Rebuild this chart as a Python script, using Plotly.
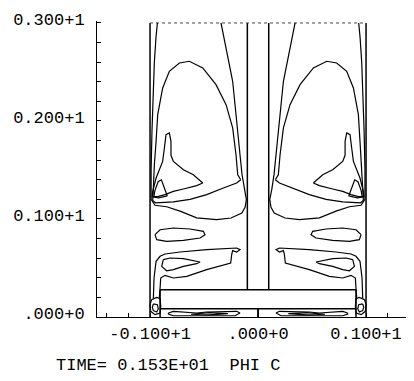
import plotly.graph_objects as go

# ---------------- data (right half, x >= 0; left half is the mirror image) -------------
c1_x = [0.343, 0.321, 0.281, 0.235, 0.21, 0.188, 0.167, 0.148, 0.127, 0.108, 0.12, 0.15, 0.25,
        0.383, 0.568, 0.722, 0.846, 0.954, 0.99, 0.99, 0.982, 0.972, 0.96, 0.945, 0.932]
c1_y = [3.0, 2.881, 2.677, 2.405, 2.133, 1.861, 1.656, 1.452, 1.3, 1.197, 1.12, 1.06, 1.01,
        0.993, 1.012, 1.08, 1.125, 1.14, 1.2, 1.5, 1.9, 2.3, 2.6, 2.85, 3.0]

c2_x = [0.16, 0.188, 0.204, 0.235, 0.296, 0.389, 0.512, 0.636, 0.728, 0.821, 0.883, 0.929, 0.944,
        0.96, 0.969, 0.975, 0.95, 0.784, 0.63, 0.475, 0.321, 0.198, 0.16]
c2_y = [1.40, 1.45, 1.656, 1.929, 2.167, 2.371, 2.541, 2.609, 2.592, 2.507, 2.337, 2.065, 1.792,
        1.554, 1.316, 1.19, 1.165, 1.175, 1.2, 1.248, 1.316, 1.367, 1.40]

c3_x = [0.512, 0.599, 0.691, 0.784, 0.806, 0.806, 0.821, 0.852, 0.867, 0.883, 0.944, 0.975, 0.98,
        0.923, 0.861, 0.784, 0.691, 0.568, 0.512]
c3_y = [1.367, 1.452, 1.503, 1.588, 1.65, 1.792, 1.878, 1.861, 1.724, 1.588, 1.418, 1.282, 1.225,
        1.231, 1.248, 1.282, 1.306, 1.34, 1.367]

c4_x = [0.84, 0.87, 0.895, 0.925, 0.955, 0.965, 0.92, 0.84]
c4_y = [1.235, 1.33, 1.40, 1.38, 1.29, 1.225, 1.215, 1.235]

c5_x = [0.954, 0.907, 0.784, 0.63, 0.506, 0.491, 0.537, 0.691, 0.846, 0.938, 0.954]
c5_y = [0.84, 0.89, 0.908, 0.898, 0.874, 0.84, 0.806, 0.782, 0.772, 0.789, 0.84]

c6_x = [0.969, 0.963, 0.944, 0.907, 0.861, 0.722, 0.475, 0.259, 0.198, 0.167, 0.198, 0.235,
        0.244, 0.253, 0.475, 0.66, 0.784, 0.861, 0.901, 0.907, 0.914]
c6_y = [0.194, 0.398, 0.568, 0.619, 0.643, 0.663, 0.687, 0.697, 0.704, 0.687, 0.663, 0.677,
        0.636, 0.551, 0.483, 0.415, 0.398, 0.425, 0.398, 0.296, 0.194]

c7_x = [0.877, 0.815, 0.691, 0.599, 0.537, 0.568, 0.691, 0.784, 0.846, 0.892, 0.883, 0.877]
c7_y = [0.585, 0.602, 0.595, 0.575, 0.561, 0.544, 0.517, 0.483, 0.472, 0.517, 0.568, 0.585]

c8_x = [0.985, 0.938, 0.907, 0.901, 0.907, 0.954, 0.994, 1.0, 0.985]
c8_y = [0.177, 0.2, 0.187, 0.109, 0.041, 0.024, 0.058, 0.126, 0.177]

c9_x = [0.969, 0.932, 0.923, 0.938, 0.969, 0.979, 0.969]
c9_y = [0.133, 0.126, 0.085, 0.051, 0.065, 0.099, 0.133]

c10_x = [0.83, 0.784, 0.568, 0.475, 0.198, 0.167, 0.213, 0.475, 0.784, 0.83, 0.83]
c10_y = [0.041, 0.058, 0.041, 0.051, 0.058, 0.041, 0.013, 0.013, 0.013, 0.031, 0.041]

c11_x = [0.62, 0.45, 0.28, 0.45, 0.62]
c11_y = [0.028, 0.045, 0.035, 0.022, 0.028]

contours = [(c1_x, c1_y), (c2_x, c2_y), (c3_x, c3_y), (c4_x, c4_y), (c5_x, c5_y),
            (c6_x, c6_y), (c7_x, c7_y), (c8_x, c8_y), (c9_x, c9_y), (c10_x, c10_y),
            (c11_x, c11_y)]

# geometry of the domain (right half)
wall_x, wall_y = [1.0, 1.0], [0.0, 3.0]
divider_x, divider_y = [0.099, 0.099], [0.279, 3.0]
shelf_x, shelf_y = [0.0, 0.907], [0.279, 0.279]
post_x, post_y = [0.907, 0.907], [0.0, 0.279]
floor_x, floor_y = [0.0, 0.907], [0.085, 0.085]
centre_x, centre_y = [0.0, 0.0], [0.0, 0.085]
geometry = [(wall_x, wall_y), (divider_x, divider_y), (shelf_x, shelf_y),
            (post_x, post_y), (floor_x, floor_y), (centre_x, centre_y)]
top_x, top_y = [-1.0, 1.0], [3.0, 3.0]

# axes
x_ticks = [-1.0, 0.0, 1.0]
x_labels = ["-0.100+1", ".000+0", "0.100+1"]
x_minor = [-1.4, -1.2, 1.2, 1.4]
y_ticks = [0.0, 1.0, 2.0, 3.0]
y_labels = [".000+0", "0.100+1", "0.200+1", "0.300+1"]
title_text = "TIME= 0.153E+01  PHI C"


def mirrored(pairs):
    xs, ys = [], []
    for px, py in pairs:
        xs += list(px) + [None] + [-v for v in px] + [None]
        ys += list(py) + [None] + list(py) + [None]
    return xs, ys


FONT = "Liberation Mono"
fig = go.Figure()
gx, gy = mirrored(geometry)
fig.add_trace(go.Scatter(x=gx, y=gy, mode="lines", line=dict(color="black", width=1.5),
                         hoverinfo="skip"))
fig.add_trace(go.Scatter(x=top_x, y=top_y, mode="lines",
                         line=dict(color="#444", width=1, dash="dot"), hoverinfo="skip"))
cx, cy = mirrored(contours)
fig.add_trace(go.Scatter(x=cx, y=cy, mode="lines", line=dict(color="black", width=1.2),
                         hoverinfo="skip"))

fig.update_layout(
    width=406, height=373, showlegend=False,
    margin=dict(l=89, r=0, t=13, b=64),
    paper_bgcolor="white", plot_bgcolor="white",
    font=dict(family=FONT, size=17, color="black"),
    xaxis=dict(range=[-1.491, 1.444], showgrid=False, zeroline=False,
               showline=True, linecolor="black", linewidth=1,
               tickmode="array", tickvals=x_ticks, ticktext=x_labels,
               ticks="inside", ticklen=4, tickcolor="black",
               ticklabelstandoff=1,
               minor=dict(tickvals=x_minor, ticks="inside", ticklen=4, tickcolor="black"),
               tickfont=dict(family=FONT, size=17, color="black")),
    yaxis=dict(range=[0, 3.02], showgrid=False, zeroline=False,
               showline=True, linecolor="black", linewidth=1,
               tickmode="array", tickvals=y_ticks, ticktext=y_labels,
               ticks="inside", ticklen=4, tickcolor="black",
               ticklabelstandoff=8, ticklabelshift=-4,
               minor=dict(tick0=0, dtick=0.2, ticks="inside", ticklen=4, tickcolor="black"),
               tickfont=dict(family=FONT, size=17, color="black")),
    annotations=[dict(text=title_text, xref="paper", yref="paper", x=-0.1355, y=-0.1655,
                      xanchor="left", yanchor="middle", showarrow=False,
                      font=dict(family=FONT, size=17, color="black"))],
)

fig.write_html("out.html")
